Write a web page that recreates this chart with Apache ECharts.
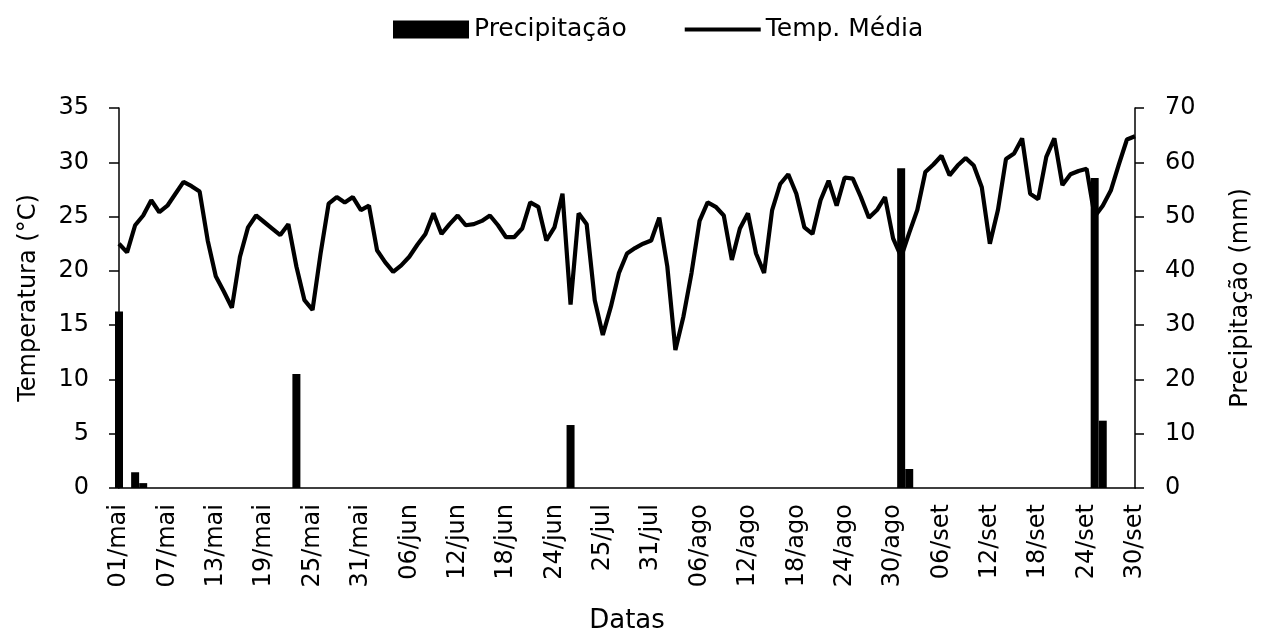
<!DOCTYPE html>
<html>
<head>
<meta charset="utf-8">
<script src="https://cdn.jsdelivr.net/npm/echarts@6/dist/echarts.min.js"></script>
<style>
html,body{margin:0;padding:0;background:#fff;}
#chart{width:1269px;height:630px;}
</style>
</head>
<body>
<div id="chart"></div>
<script>
const dates = [
'01/mai','02/mai','03/mai','04/mai','05/mai','06/mai','07/mai','08/mai','09/mai','10/mai',
'11/mai','12/mai','13/mai','14/mai','15/mai','16/mai','17/mai','18/mai','19/mai','20/mai',
'21/mai','22/mai','23/mai','24/mai','25/mai','26/mai','27/mai','28/mai','29/mai','30/mai','31/mai',
'01/jun','02/jun','03/jun','04/jun','05/jun','06/jun','07/jun','08/jun','09/jun','10/jun',
'11/jun','12/jun','13/jun','14/jun','15/jun','16/jun','17/jun','18/jun','19/jun','20/jun',
'21/jun','22/jun','23/jun','24/jun','25/jun','26/jun','27/jun','28/jun','29/jun',
'25/jul','26/jul','27/jul','28/jul','29/jul','30/jul','31/jul',
'01/ago','02/ago','03/ago','04/ago','05/ago','06/ago','07/ago','08/ago','09/ago','10/ago',
'11/ago','12/ago','13/ago','14/ago','15/ago','16/ago','17/ago','18/ago','19/ago','20/ago',
'21/ago','22/ago','23/ago','24/ago','25/ago','26/ago','27/ago','28/ago','29/ago','30/ago','31/ago',
'02/set','03/set','04/set','05/set','06/set','07/set','08/set','09/set','10/set',
'11/set','12/set','13/set','14/set','15/set','16/set','17/set','18/set','19/set','20/set',
'21/set','22/set','23/set','24/set','25/set','26/set','27/set','28/set','29/set','30/set'
];

const temperatura = [
22.5,21.7,24.2,25.1,26.5,25.4,26.0,27.1,28.2,27.8,
27.3,22.8,19.5,18.1,16.6,21.3,24.0,25.1,24.5,23.9,
23.3,24.3,20.4,17.3,16.4,21.6,26.2,26.8,26.3,26.8,
25.6,26.0,21.9,20.8,19.9,20.5,21.3,22.4,23.4,25.3,
23.4,24.3,25.1,24.2,24.3,24.6,25.1,24.2,23.1,23.1,
23.9,26.3,25.9,22.8,24.0,27.1,16.9,25.3,24.3,17.3,
14.1,16.7,19.8,21.6,22.1,22.5,22.8,24.9,20.4,12.7,
15.8,19.8,24.6,26.3,25.9,25.1,21.0,23.9,25.3,21.6,
19.8,25.6,28.0,28.9,27.1,24.0,23.4,26.5,28.3,26.0,
28.6,28.5,26.8,24.9,25.6,26.8,23.0,21.3,23.5,25.6,
29.1,29.8,30.6,28.8,29.7,30.4,29.7,27.7,22.5,25.6,
30.3,30.8,32.2,27.1,26.6,30.5,32.2,27.9,28.9,29.2,
29.4,25.0,26.0,27.4,29.8,32.1,32.4
];

const precipitacao = [
32.5,0,2.9,0.9,0,0,0,0,0,0,
0,0,0,0,0,0,0,0,0,0,
0,0,21.0,0,0,0,0,0,0,0,
0,0,0,0,0,0,0,0,0,0,
0,0,0,0,0,0,0,0,0,0,
0,0,0,0,0,0,11.6,0,0,0,
0,0,0,0,0,0,0,0,0,0,
0,0,0,0,0,0,0,0,0,0,
0,0,0,0,0,0,0,0,0,0,
0,0,0,0,0,0,0,58.9,3.5,0,
0,0,0,0,0,0,0,0,0,0,
0,0,0,0,0,0,0,0,0,0,
0,57.1,12.4,0,0,0,0
];

const tempTicks = {min: 0, max: 35, interval: 5};
const precTicks = {min: 0, max: 70, interval: 10};

const FONT = 'DejaVu Sans';
const chart = echarts.init(document.getElementById('chart'), null, {renderer: 'canvas'});
chart.setOption({
  animation: false,
  backgroundColor: '#fff',
  textStyle: {fontFamily: FONT, color: '#000'},
  legend: {
    left: 388, top: 12,
    itemWidth: 76, itemHeight: 18, itemGap: 58,
    textStyle: {fontFamily: FONT, fontSize: 25, color: '#000'},
    data: [
      {name: 'Precipitação', icon: 'rect'},
      {name: 'Temp. Média', icon: 'path://M0,0 M76,18 M0,7 L76,7 L76,11 L0,11 Z'}
    ]
  },
  grid: {left: 119, right: 134, top: 108, bottom: 142, containLabel: false, outerBoundsMode: 'none'},
  xAxis: {
    type: 'category',
    data: dates,
    boundaryGap: false,
    name: 'Datas',
    nameLocation: 'middle',
    nameGap: 120,
    nameTextStyle: {fontFamily: FONT, fontSize: 26, color: '#000'},
    axisLine: {show: true, lineStyle: {color: '#000', width: 1.5}},
    axisTick: {show: false},
    axisLabel: {interval: 5, rotate: 90, margin: 16, fontFamily: FONT, fontSize: 24, color: '#000'},
    splitLine: {show: false}
  },
  yAxis: [
    {
      type: 'value', position: 'left',
      min: tempTicks.min, max: tempTicks.max, interval: tempTicks.interval,
      name: 'Temperatura (°C)', nameLocation: 'middle', nameRotate: 90, nameGap: 78,
      nameTextStyle: {fontFamily: FONT, fontSize: 24, color: '#000'},
      axisLine: {show: true, lineStyle: {color: '#000', width: 1.5}},
      axisTick: {show: true, inside: false, length: 10, lineStyle: {color: '#000', width: 1.5}},
      axisLabel: {margin: 30, fontFamily: FONT, fontSize: 24, color: '#000'},
      splitLine: {show: false}
    },
    {
      type: 'value', position: 'right',
      min: precTicks.min, max: precTicks.max, interval: precTicks.interval,
      name: 'Precipitação (mm)', nameLocation: 'middle', nameRotate: 90, nameGap: 94,
      nameTextStyle: {fontFamily: FONT, fontSize: 24, color: '#000'},
      axisLine: {show: true, lineStyle: {color: '#000', width: 1.5}},
      axisTick: {show: true, inside: false, length: 9, lineStyle: {color: '#000', width: 1.5}},
      axisLabel: {margin: 30, fontFamily: FONT, fontSize: 24, color: '#000'},
      splitLine: {show: false}
    }
  ],
  series: [
    {
      name: 'Precipitação',
      type: 'bar',
      yAxisIndex: 1,
      data: precipitacao,
      barWidth: 8,
      clip: true,
      itemStyle: {color: '#000'},
      z: 1
    },
    {
      name: 'Temp. Média',
      type: 'line',
      yAxisIndex: 0,
      data: temperatura,
      showSymbol: false,
      symbol: 'none',
      lineStyle: {color: '#000', width: 4.2},
      itemStyle: {color: '#000'},
      z: 2
    }
  ]
});
</script>
</body>
</html>
